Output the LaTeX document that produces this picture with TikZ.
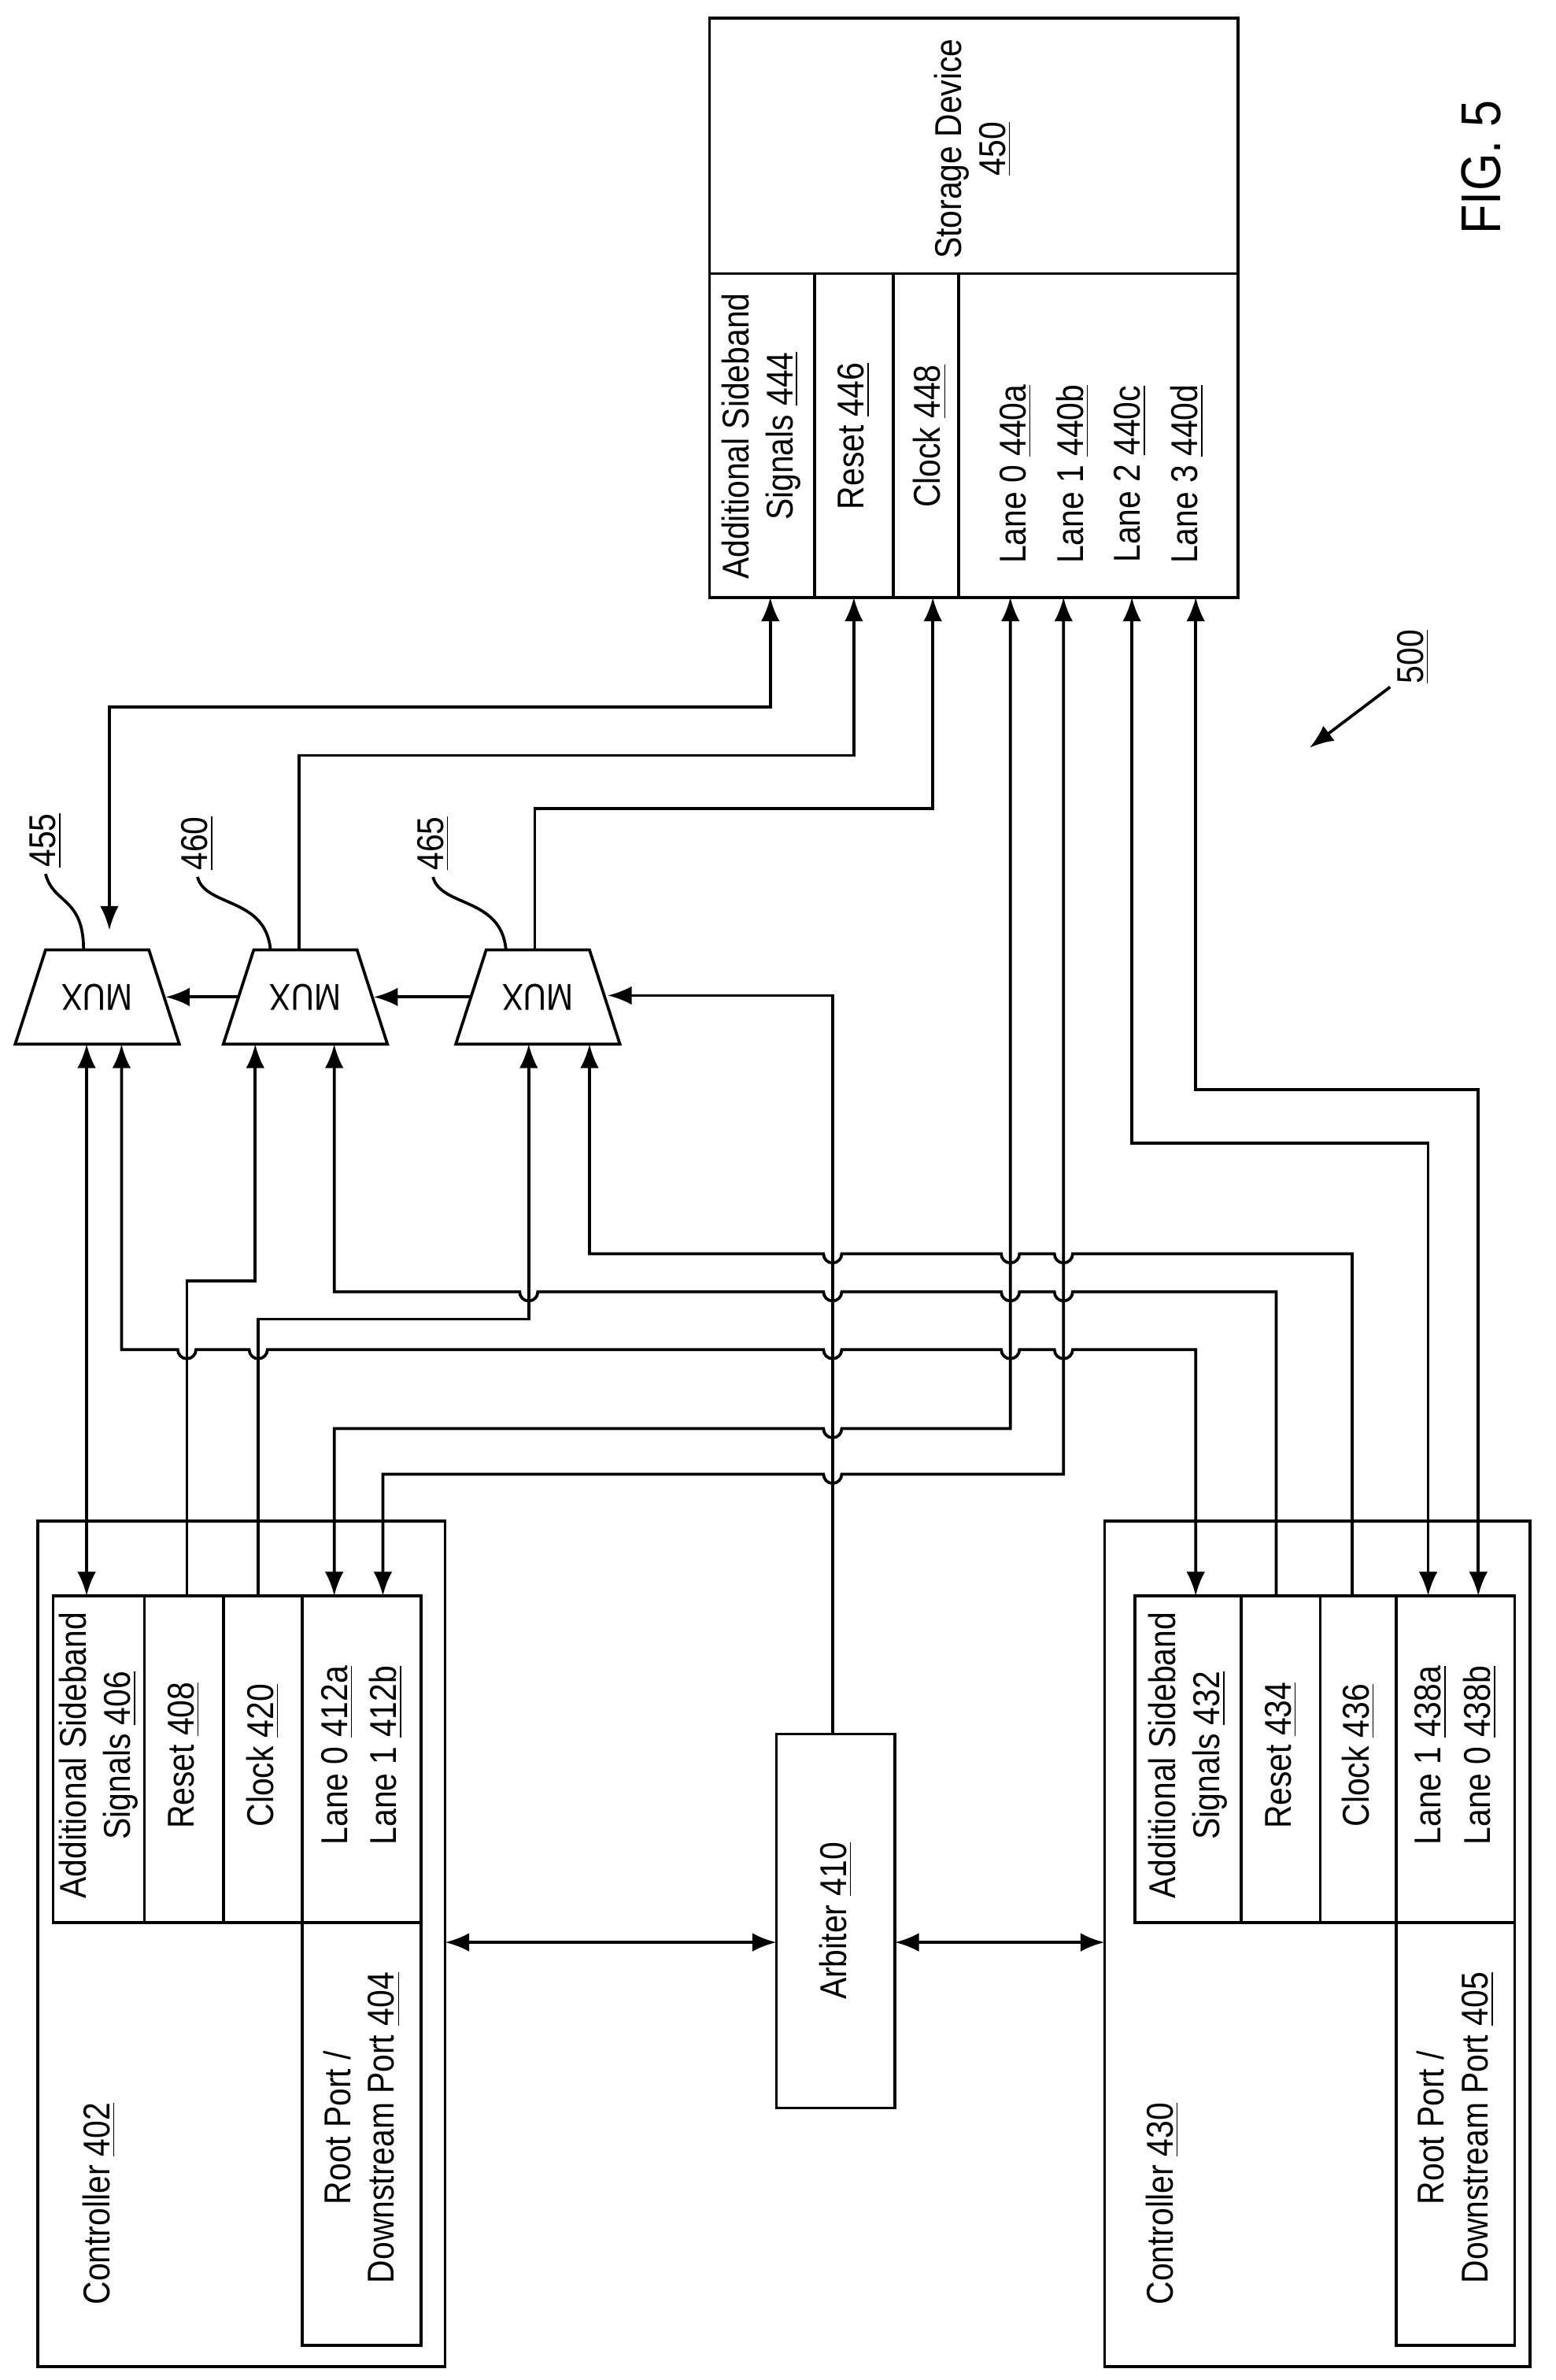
\documentclass[tikz,border=0pt]{standalone}
\usepackage{fontspec}
\setmainfont{Liberation Sans}[FakeStretch=0.86]
\usetikzlibrary{arrows.meta}
\begin{document}
\begin{tikzpicture}[x=0.02cm,y=-0.02cm,line width=1.1pt,
  box/.style={draw,line width=1.1pt},
  lbl/.style={rotate=90,font=\fontsize{14}{16.5}\selectfont,align=center,inner sep=0pt},
  arr/.style={-{Latex[length=9pt,width=7pt]}},
  darr/.style={{Latex[length=9pt,width=7pt]}-{Latex[length=9pt,width=7pt]}}]
\useasboundingbox (0,0) rectangle (1024,1566);
% Controller 402
\draw[box] (25,1001) rectangle (293,1557);
\draw[box] (35,1050) rectangle (277,1265);
\draw (95,1050)--(95,1265) (147,1050)--(147,1265) (199,1050)--(199,1265);
\draw[box] (199,1265) rectangle (277,1543);
\node[lbl] (t406) at (65,1155) {Additional Sideband\\Signals \underline{406}};
\node[lbl] (t408) at (121,1155) {Reset \underline{408}};
\node[lbl] (t420) at (173,1155) {Clock \underline{420}};
\node[lbl] (t412) at (238,1155) {Lane 0 \underline{412a}\\[2pt]Lane 1 \underline{412b}};
\node[lbl] (t404) at (238,1400) {Root Port /\\Downstream Port \underline{404}};
\node[lbl] (t402) at (65,1450) {Controller \underline{402}};
% Controller 430
\draw[box] (727,1001) rectangle (1007,1557);
\draw[box] (747,1050) rectangle (997,1265);
\draw (817,1050)--(817,1265) (869,1050)--(869,1265) (919,1050)--(919,1265);
\draw[box] (919,1265) rectangle (997,1543);
\node[lbl] (t432) at (782,1155) {Additional Sideband\\Signals \underline{432}};
\node[lbl] (t434) at (843,1155) {Reset \underline{434}};
\node[lbl] (t436) at (894,1155) {Clock \underline{436}};
\node[lbl] (t438) at (958,1155) {Lane 1 \underline{438a}\\[2pt]Lane 0 \underline{438b}};
\node[lbl] (t405) at (958,1400) {Root Port /\\Downstream Port \underline{405}};
\node[lbl] (t430) at (765,1450) {Controller \underline{430}};
% Arbiter
\draw[box] (511,1141) rectangle (589,1387);
\node[lbl] (t410) at (550,1264) {Arbiter \underline{410}};
\draw[darr] (293,1278)--(511,1278);
\draw[darr] (589,1278)--(727,1278);
% Storage device
\draw[box] (467,12) rectangle (815,393);
\draw (467,180)--(815,180);
\draw (536,180)--(536,393) (588,180)--(588,393) (631,180)--(631,393);
\node[lbl] (t444) at (501,287) {Additional Sideband\\Signals \underline{444}};
\node[lbl] (t446) at (562,287) {Reset \underline{446}};
\node[lbl] (t448) at (612,287) {Clock \underline{448}};
\node[lbl] (t440) at (725,312) {Lane 0 \underline{440a}\\[5pt]Lane 1 \underline{440b}\\[5pt]Lane 2 \underline{440c}\\[5pt]Lane 3 \underline{440d}};
\node[lbl] (t450) at (640,98) {Storage Device\\\underline{450}};
% MUXes
\foreach \n/\c in {455/64,460/201,465/354}{
  \draw[box] (\c-54,687)--(\c+54,687)--(\c+34,625)--(\c-34,625)--cycle;
  \node[rotate=180,font=\fontsize{14}{16}\selectfont] (m\n) at (\c,656) {MUX};
}
\draw[arr] (157,656)--(109,656);
\draw[arr] (310,656)--(246,656);
% labels of muxes
\node[lbl] (l455) at (30,553) {\underline{455}};
\draw (30,575) .. controls (35,595) and (55,590) .. (55,625);
\node[lbl] (l460) at (130,555) {\underline{460}};
\draw (130,577) .. controls (135,597) and (175,590) .. (178,625);
\node[lbl] (l465) at (285,555) {\underline{465}};
\draw (285,577) .. controls (290,597) and (330,590) .. (333,625);
% mux to storage
\draw[darr] (72,612)--(72,465)--(507,465)--(507,393);
\draw[arr] (197,625)--(197,497)--(562,497)--(562,393);
\draw[arr] (352,625)--(352,532)--(614,532)--(614,393);
% arbiter
\draw[arr] (548,1141)--(548,655)--(400,655);
% controller 402 to muxes
\draw[darr] (57,1050)--(57,687);
\draw[arr] (123,1050)--(123,843)--(168,843)--(168,687);
\draw[arr] (170,1050)--(170,868)--(348,868)--(348,687);
% horizontal lines with jumps (r=6)
\draw[arr] (890,1050)--(890,825)
  --(706,825) arc(0:180:6) --(671,825) arc(0:180:6) --(554,825) arc(0:180:6) --(388,825)--(388,687);
\draw[arr] (840,1050)--(840,850)
  --(706,850) arc(0:180:6) --(671,850) arc(0:180:6) --(554,850) arc(0:180:6) --(354,850) arc(0:180:6) --(220,850)--(220,687);
\draw[darr] (787,1050)--(787,888)
  --(706,888) arc(0:180:6) --(671,888) arc(0:180:6) --(554,888) arc(0:180:6) --(176,888) arc(0:180:6) --(129,888) arc(0:180:6) --(80,888)--(80,687);
\draw[darr] (220,1050)--(220,940)--(542,940) arc(180:0:6) --(665,940)--(665,393);
\draw[darr] (252,1050)--(252,970)--(542,970) arc(180:0:6) --(700,970)--(700,393);
\draw[darr] (940,1050)--(940,752)--(745,752)--(745,393);
\draw[darr] (973,1050)--(973,717)--(787,717)--(787,393);
% 500
\node[lbl] (l500) at (930,432) {\underline{500}};
\draw[arr] (915,452)--(862,492);
\node[rotate=90,font=\fontsize{21}{24}\selectfont] (fig) at (975,110) {FIG. 5};
\end{tikzpicture}
\end{document}
